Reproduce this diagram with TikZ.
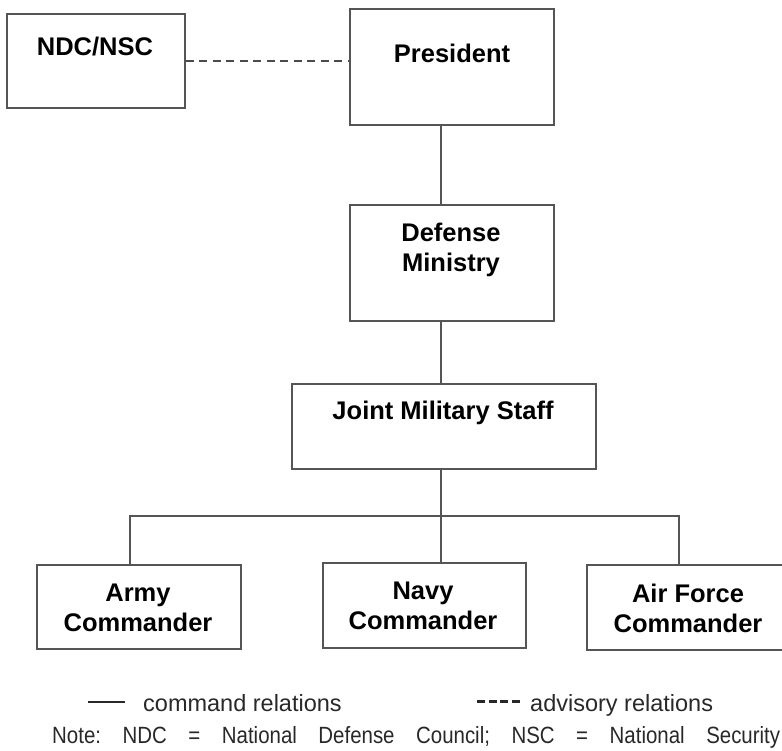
\documentclass[tikz,border=0pt]{standalone}
\usepackage{fontspec}
\setmainfont{Liberation Sans}
\newfontfamily\notefont{Liberation Sans}[FakeStretch=0.87]
\definecolor{boxgray}{RGB}{85,85,85}
\definecolor{dashgray}{RGB}{75,75,75}
\definecolor{inkgray}{RGB}{40,40,40}

\begin{document}
\begin{tikzpicture}[x=1pt,y=-1pt,
  box/.style={draw=boxgray, line width=1.6pt, rectangle, inner sep=0pt, anchor=north west},
  lbl/.style={font=\fontsize{25.5}{30}\selectfont\bfseries, anchor=base, inner sep=0pt, align=center},
  link/.style={draw=boxgray, line width=1.6pt},
  advise/.style={draw=dashgray, line width=2.4pt, dash pattern=on 8pt off 5.5pt},
  legendtext/.style={font=\fontsize{23.5}{28}\selectfont, text=inkgray, anchor=base west, inner sep=0pt},
  legendsolid/.style={draw=inkgray, line width=1.6pt},
  legenddash/.style={draw=inkgray, line width=3pt, dash pattern=on 8pt off 3.7pt}
]
\useasboundingbox (0,0) rectangle (782,750);

% organisation boxes
\node[box, minimum width=178pt, minimum height=94pt]  (ndc)  at (6,13)   {};
\node[box, minimum width=204pt, minimum height=116pt] (pres) at (349,8)  {};
\node[box, minimum width=204pt, minimum height=116pt] (def)  at (349,204) {};
\node[box, minimum width=304pt, minimum height=85pt]  (jms)  at (291,383) {};
\node[box, minimum width=204pt, minimum height=84pt]  (army) at (36,564)  {};
\node[box, minimum width=203pt, minimum height=85pt]  (navy) at (322,562) {};
\node[box, minimum width=204pt, minimum height=85pt]  (air)  at (586,564) {};

% box titles (base = baseline of the last line)
\node[lbl] (ndc-t)  at (95,55)   {NDC/NSC};
\node[lbl] (pres-t) at (452,62)  {President};
\node[lbl] (def-t)  at (451,271) {Defense\\Ministry};
\node[lbl] (jms-t)  at (443,419) {Joint Military Staff};
\node[lbl] (army-t) at (138,631) {Army\\Commander};
\node[lbl] (navy-t) at (423,629) {Navy\\Commander};
\node[lbl] (air-t)  at (688,632) {Air Force\\Commander};

% command chain
\coordinate (spine) at (441,0);
\coordinate (fork)  at (441,516);
\draw[link] (pres.south -| spine) -- (def.north -| spine);
\draw[link] (def.south -| spine) -- (jms.north -| spine);
\draw[link] (jms.south -| spine) -- (fork);
\coordinate (armyup) at (130,516);
\coordinate (airup)  at (679,516);
\draw[link] (army.north -| armyup) -- (armyup) -- (airup) -- (air.north -| airup);
\draw[link] (fork) -- (navy.north -| fork);

% advisory link
\draw[advise] (ndc.east) -- (ndc.east -| pres.west);

% legend
\coordinate (cmd-a) at (88,702);
\coordinate (cmd-b) at (125,702);
\draw[legendsolid] (cmd-a) -- (cmd-b);
\node[legendtext] (cmd-t) at (143,711) {command relations};
\coordinate (adv-a) at (477,701);
\coordinate (adv-b) at (520,701);
\draw[legenddash] (adv-a) -- (adv-b);
\node[legendtext] (adv-t) at (530,711) {advisory relations};

% footnote
\node[font=\fontsize{23.5}{28}\selectfont\notefont, text=inkgray, anchor=base west, inner sep=0pt] (note) at (52,743)
  {\hbox to 728pt{Note:\hfil NDC\hfil =\hfil National\hfil Defense\hfil Council;\hfil NSC\hfil =\hfil National\hfil Security}};
\end{tikzpicture}
\end{document}
